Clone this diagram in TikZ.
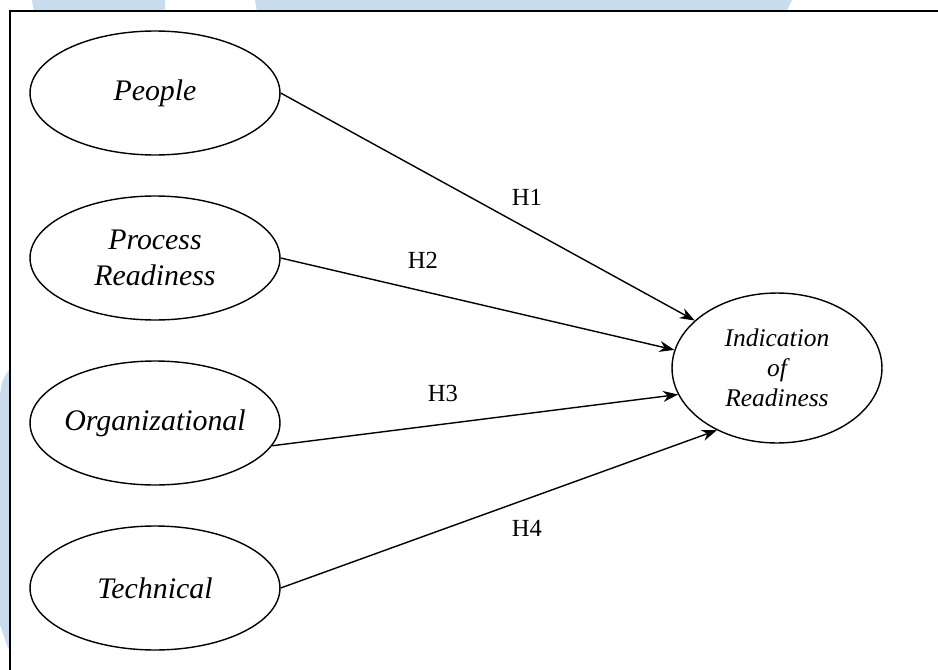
\documentclass[tikz,border=0pt]{standalone}
\usepackage{fontspec}
\setmainfont{Liberation Serif}
\usepackage{tikz}
\usetikzlibrary{shapes.geometric, arrows.meta}
\definecolor{wmblue}{RGB}{201, 220, 238}

\tikzset{
  construct/.style={draw, ellipse, line width=0.8pt, inner ysep=0pt, inner xsep=-0.5cm, align=center,
    minimum width=5cm, minimum height=2.48cm, font=\fontsize{17}{20.5}\selectfont\itshape},
  hypo/.style={font=\fontsize{14}{16}\selectfont},
  path/.style={-{Stealth[length=0.3cm, width=0.22cm]}, line width=0.8pt}
}

\begin{document}
\begin{tikzpicture}[x=0.02cm, y=-0.02cm]
\useasboundingbox (0,0) rectangle (938,670);
\clip (0,0) rectangle (938,670);

% watermark
\fill[wmblue] (32,0) -- (165,0) -- (165,12) -- (34,12) -- cycle;
\fill[wmblue] (255,0) -- (792,0) -- (786,12) -- (257,12) -- cycle;
\fill[wmblue] (0,395) .. controls (2,380) .. (9,370) -- (10,370) -- (10,650) -- (8,648) -- (0,625) -- cycle;

% frame
\draw[line width=1.1pt, fill=white] (10,11) rectangle (960,700);

% exogenous constructs
\node[construct] (people) at (155,93) {People};
\node[construct] (process) at (155,258) {Process\\Readiness};
\node[construct] (org) at (155,423) {Organizational};
\node[construct] (tech) at (155,588) {Technical};

% endogenous construct
\node[construct, minimum width=4.2cm, minimum height=3cm,
  font=\fontsize{14.5}{17}\selectfont\itshape] (ind) at (777,368) {Indication\\of\\Readiness};

% hypotheses
\draw[path] (people.east) -- (ind.150);
\draw[path] (process.east) -- (ind.170);
\draw[path] (org.349) -- (ind.195);
\draw[path] (tech.east) -- (ind.226);

\node[hypo] (h1) at (527,197) {H1};
\node[hypo] (h2) at (423,260) {H2};
\node[hypo] (h3) at (443,393) {H3};
\node[hypo] (h4) at (527,528) {H4};
\end{tikzpicture}
\end{document}
